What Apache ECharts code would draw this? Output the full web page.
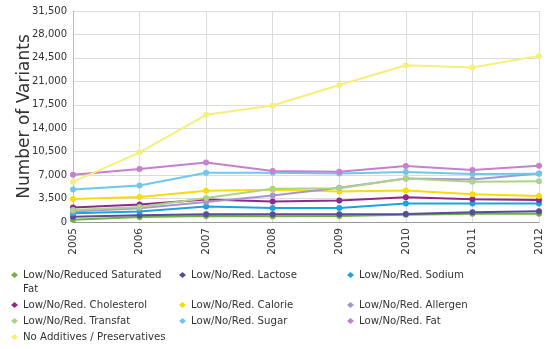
<!DOCTYPE html>
<html>
<head>
<meta charset="utf-8">
<script src="https://cdn.jsdelivr.net/npm/echarts@6/dist/echarts.min.js"></script>
<style>
  html, body { margin: 0; padding: 0; background: #fff; }
  #chart { width: 550px; height: 349px; }
</style>
</head>
<body>
<div id="chart"></div>
<script>
// Product claim variants launched per year
const years = ['2005', '2006', '2007', '2008', '2009', '2010', '2011', '2012'];

const satFat      = [350, 750, 900, 850, 900, 1100, 1250, 1250];
const lactose     = [800, 1000, 1150, 1150, 1150, 1200, 1450, 1600];
const sodium      = [1300, 1550, 2300, 2100, 2100, 2750, 2750, 2750];
const cholesterol = [2150, 2600, 3350, 3050, 3200, 3700, 3400, 3300];
const calorie     = [3450, 3750, 4650, 4800, 4550, 4700, 4150, 3900];
const allergen    = [1550, 2050, 3000, 3950, 5100, 6500, 6350, 7250];
const transfat    = [1800, 2250, 3600, 4950, 5050, 6500, 6000, 6100];
const sugar       = [4850, 5450, 7350, 7350, 7250, 7450, 7150, 7200];
const fat         = [7050, 7900, 8900, 7600, 7500, 8350, 7750, 8400];
const noAdditives = [6000, 10400, 16000, 17400, 20450, 23400, 23050, 24800];

const yTicks = { min: 0, max: 31500, step: 3500 };

const seriesDefs = [
  { name: 'Low/No/Reduced Saturated Fat', data: satFat,      color: '#6db33f' },
  { name: 'Low/No/Red. Lactose',          data: lactose,     color: '#5a4b9c' },
  { name: 'Low/No/Red. Sodium',           data: sodium,      color: '#1ea2dc' },
  { name: 'Low/No/Red. Cholesterol',      data: cholesterol, color: '#8f2a8c' },
  { name: 'Low/No/Red. Calorie',          data: calorie,     color: '#f7dc0a' },
  { name: 'Low/No/Red. Allergen',         data: allergen,    color: '#a596d0' },
  { name: 'Low/No/Red. Transfat',         data: transfat,    color: '#aed388' },
  { name: 'Low/No/Red. Sugar',            data: sugar,       color: '#70c7ea' },
  { name: 'Low/No/Red. Fat',              data: fat,         color: '#c77fcf' },
  { name: 'No Additives / Preservatives', data: noAdditives, color: '#f6ef7a' }
];

const FONT = 'DejaVu Sans';
const legendText = { fontFamily: FONT, fontSize: 10.2, color: '#333', width: 154, lineHeight: 14 };
const legendCommon = {
  orient: 'horizontal',
  icon: 'diamond',
  itemWidth: 7,
  itemHeight: 6,
  itemGap: 2,
  padding: 0,
  selectedMode: false,
  textStyle: legendText
};

const chart = echarts.init(document.getElementById('chart'));
chart.setOption({
  animation: false,
  color: seriesDefs.map(s => s.color),
  grid: { left: 73, right: 11, top: 11, bottom: 127, outerBoundsMode: 'none', containLabel: false },
  legend: [
    // long first entry wraps onto a second line; the blank lead line keeps
    // the marker level with the first line of text
    Object.assign({}, legendCommon, {
      left: 11, top: 254,
      data: [seriesDefs[0].name],
      formatter: name => '\u00a0\n' + name.replace(/ Fat$/, '\nFat')
    }),
    Object.assign({}, legendCommon, {
      left: 179, top: 268,
      data: [seriesDefs[1].name, seriesDefs[2].name]
    }),
    Object.assign({}, legendCommon, {
      left: 11, top: 298, width: 530,
      data: seriesDefs.slice(3).map(s => s.name)
    })
  ],
  xAxis: {
    type: 'category',
    data: years,
    boundaryGap: false,
    axisLine: { lineStyle: { color: '#999', width: 1 } },
    axisTick: { show: false },
    axisLabel: { rotate: 90, fontFamily: FONT, fontSize: 10.5, color: '#333', margin: 6 },
    splitLine: { show: true, lineStyle: { color: '#dcdcdc' } }
  },
  yAxis: {
    type: 'value',
    min: yTicks.min,
    max: yTicks.max,
    interval: yTicks.step,
    name: 'Number of Variants',
    nameLocation: 'middle',
    nameGap: 40,
    nameMoveOverlap: false,
    nameTextStyle: { fontFamily: FONT, fontSize: 17, color: '#333' },
    axisLine: { show: true, lineStyle: { color: '#bbb' } },
    axisTick: { show: false },
    axisLabel: {
      fontFamily: FONT, fontSize: 10, color: '#333', margin: 6,
      formatter: v => v.toLocaleString('en-US')
    },
    splitLine: { show: true, lineStyle: { color: '#dcdcdc' } }
  },
  series: seriesDefs.map(s => ({
    name: s.name,
    type: 'line',
    data: s.data,
    symbol: 'circle',
    symbolSize: 6,
    lineStyle: { width: 2, color: s.color },
    itemStyle: { color: s.color }
  }))
});
</script>
</body>
</html>
